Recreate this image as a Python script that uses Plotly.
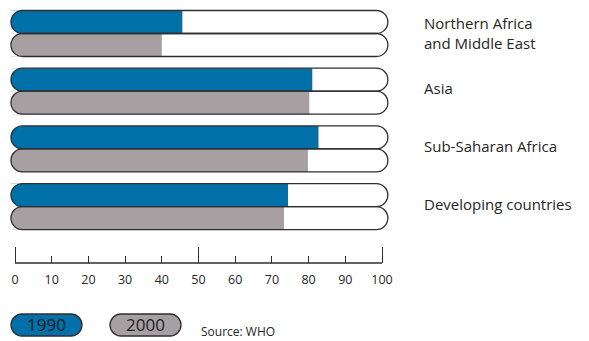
import plotly.graph_objects as go

# ---------------- data ----------------
regions = ["Northern Africa<br>and Middle East", "Asia", "Sub-Saharan Africa", "Developing countries"]
years = ["1990", "2000"]
values_1990 = [45.6, 81, 82.7, 74.4]
values_2000 = [40, 80.2, 79.8, 73.3]
tick_values = [0, 10, 20, 30, 40, 50, 60, 70, 80, 90, 100]
major_ticks = [0, 50, 100]
source_text = "Source: WHO"

# ---------------- style ----------------
W, H = 589, 341
BLUE = "#0070A8"
GRAY = "#A6A0A3"
OUTLINE = "#2E2E33"
TEXT = "#262626"
FONT = "Open Sans"

X0_PX, X100_PX = 15, 382          # pixel positions of 0 and 100
KX = (X100_PX - X0_PX) / 100.0    # px per x unit
Y0_PX, KY = 33.5, 57.7            # pixel center of first group, px per group
BARGAP = 0.203
BW = (1 - BARGAP) / 2             # bar thickness in y units
TRACK_MIN, TRACK_MAX = -1.1, 101.6

x_range = [-X0_PX / KX, (W - X0_PX) / KX]
y_range = [(H - Y0_PX) / KY, -Y0_PX / KY]
AXIS_Y_PAPER = 1 - 263 / H

ypos = list(range(len(regions)))

fig = go.Figure()
for name, vals, col in [(years[0], values_1990, BLUE), (years[1], values_2000, GRAY)]:
    fig.add_trace(go.Bar(
        y=ypos, base=TRACK_MIN, x=[v - TRACK_MIN for v in vals],
        orientation="h", name=name,
        marker=dict(color=col, line=dict(width=0)),
        customdata=vals, hovertemplate="%{customdata}<extra>" + name + "</extra>",
        showlegend=False,
    ))

# invisible trace to carry the overlaid major-tick axis
fig.add_trace(go.Scatter(x=[0], y=[0], xaxis="x2", mode="markers",
                         marker=dict(opacity=0), hoverinfo="skip", showlegend=False))

K = 0.5523


def pill(xl, xr, yt, yb, rx, ry):
    cy = (yt + yb) / 2
    pts = [
        f"M{xl + rx},{yt}",
        f"L{xr - rx},{yt}",
        f"C{xr - rx + K * rx},{yt} {xr},{cy - K * ry} {xr},{cy}",
        f"C{xr},{cy + K * ry} {xr - rx + K * rx},{yb} {xr - rx},{yb}",
        f"L{xl + rx},{yb}",
        f"C{xl + rx - K * rx},{yb} {xl},{cy + K * ry} {xl},{cy}",
        f"C{xl},{cy - K * ry} {xl + rx - K * rx},{yt} {xl + rx},{yt}",
        "Z",
    ]
    return " ".join(pts)


def left_mask(xl, yt, yb, rx, ry):
    cy = (yt + yb) / 2
    e = 0.15 * rx
    return " ".join([
        f"M{xl - e},{yt}",
        f"L{xl + rx},{yt}",
        f"C{xl + rx - K * rx},{yt} {xl},{cy - K * ry} {xl},{cy}",
        f"C{xl},{cy + K * ry} {xl + rx - K * rx},{yb} {xl + rx},{yb}",
        f"L{xl - e},{yb}",
        "Z",
    ])


shapes = []
r_px = BW * KY / 2
rx_d, ry_d = r_px / KX, BW / 2
for i in ypos:
    for j in range(2):
        yt = i - BW + j * BW
        yb = i + j * BW
        shapes.append(dict(type="path", xref="x", yref="y", layer="above",
                           path=left_mask(TRACK_MIN, yt, yb, rx_d, ry_d),
                           line=dict(width=0), fillcolor="white"))
for i in ypos:
    for j in range(2):
        yt = i - BW + j * BW
        yb = i + j * BW
        shapes.append(dict(type="path", xref="x", yref="y", layer="above",
                           path=pill(TRACK_MIN, TRACK_MAX, yt, yb, rx_d, ry_d),
                           line=dict(color=OUTLINE, width=1.3), fillcolor="rgba(0,0,0,0)"))

# axis line from 0 to 100
shapes.append(dict(type="line", xref="x", yref="paper", x0=tick_values[0], x1=tick_values[-1],
                   y0=AXIS_Y_PAPER, y1=AXIS_Y_PAPER, line=dict(color=OUTLINE, width=1.3)))

# legend pills (paper coords)
annotations = []
leg_boxes = [(11, 82), (110, 181)]
for (l, r), col, yr in zip(leg_boxes, [BLUE, GRAY], years):
    t, b = 314, 336
    rpx = (b - t) / 2
    shapes.append(dict(type="path", xref="paper", yref="paper", layer="above",
                       path=pill(l / W, r / W, 1 - t / H, 1 - b / H, rpx / W, -(b - t) / 2 / H),
                       line=dict(color=OUTLINE, width=1.3), fillcolor=col))
    annotations.append(dict(xref="paper", yref="paper", x=(l + r) / 2 / W, y=1 - 324.5 / H,
                            text=yr, showarrow=False, xanchor="center", yanchor="middle",
                            font=dict(family=FONT, size=17, color="#1E1E1E")))

annotations.append(dict(xref="paper", yref="paper", x=199 / W, y=1 - 331 / H, text=source_text,
                        showarrow=False, xanchor="left", yanchor="middle",
                        font=dict(family=FONT, size=12, color=TEXT)))

for i, reg in zip(ypos, regions):
    shift = 1 if "<br>" in reg else 3
    annotations.append(dict(xref="paper", yref="y", x=422 / W, y=i, text=reg, align="left",
                            showarrow=False, xanchor="left", yanchor="middle", yshift=shift,
                            font=dict(family=FONT, size=15, color=TEXT)))

fig.update_layout(
    width=W, height=H, margin=dict(l=0, r=0, t=0, b=0),
    paper_bgcolor="white", plot_bgcolor="white",
    barmode="group", bargap=BARGAP, bargroupgap=0,
    shapes=shapes, annotations=annotations,
    xaxis=dict(range=x_range, anchor="free", position=AXIS_Y_PAPER, showline=False,
               showgrid=False, zeroline=False, tickmode="array", tickvals=tick_values,
               ticks="inside", ticklen=7, tickwidth=1.3, tickcolor=OUTLINE,
               ticklabelstandoff=7,
               tickfont=dict(family=FONT, size=12.5, color=TEXT)),
    xaxis2=dict(range=x_range, overlaying="x", anchor="free", position=AXIS_Y_PAPER,
                showline=False, showgrid=False, zeroline=False, tickmode="array",
                tickvals=major_ticks, ticks="inside", ticklen=16, tickwidth=1.3,
                tickcolor=OUTLINE, showticklabels=False),
    yaxis=dict(range=y_range, showgrid=False, zeroline=False, showticklabels=False,
               showline=False),
    showlegend=False,
)

fig.write_html("out.html")
